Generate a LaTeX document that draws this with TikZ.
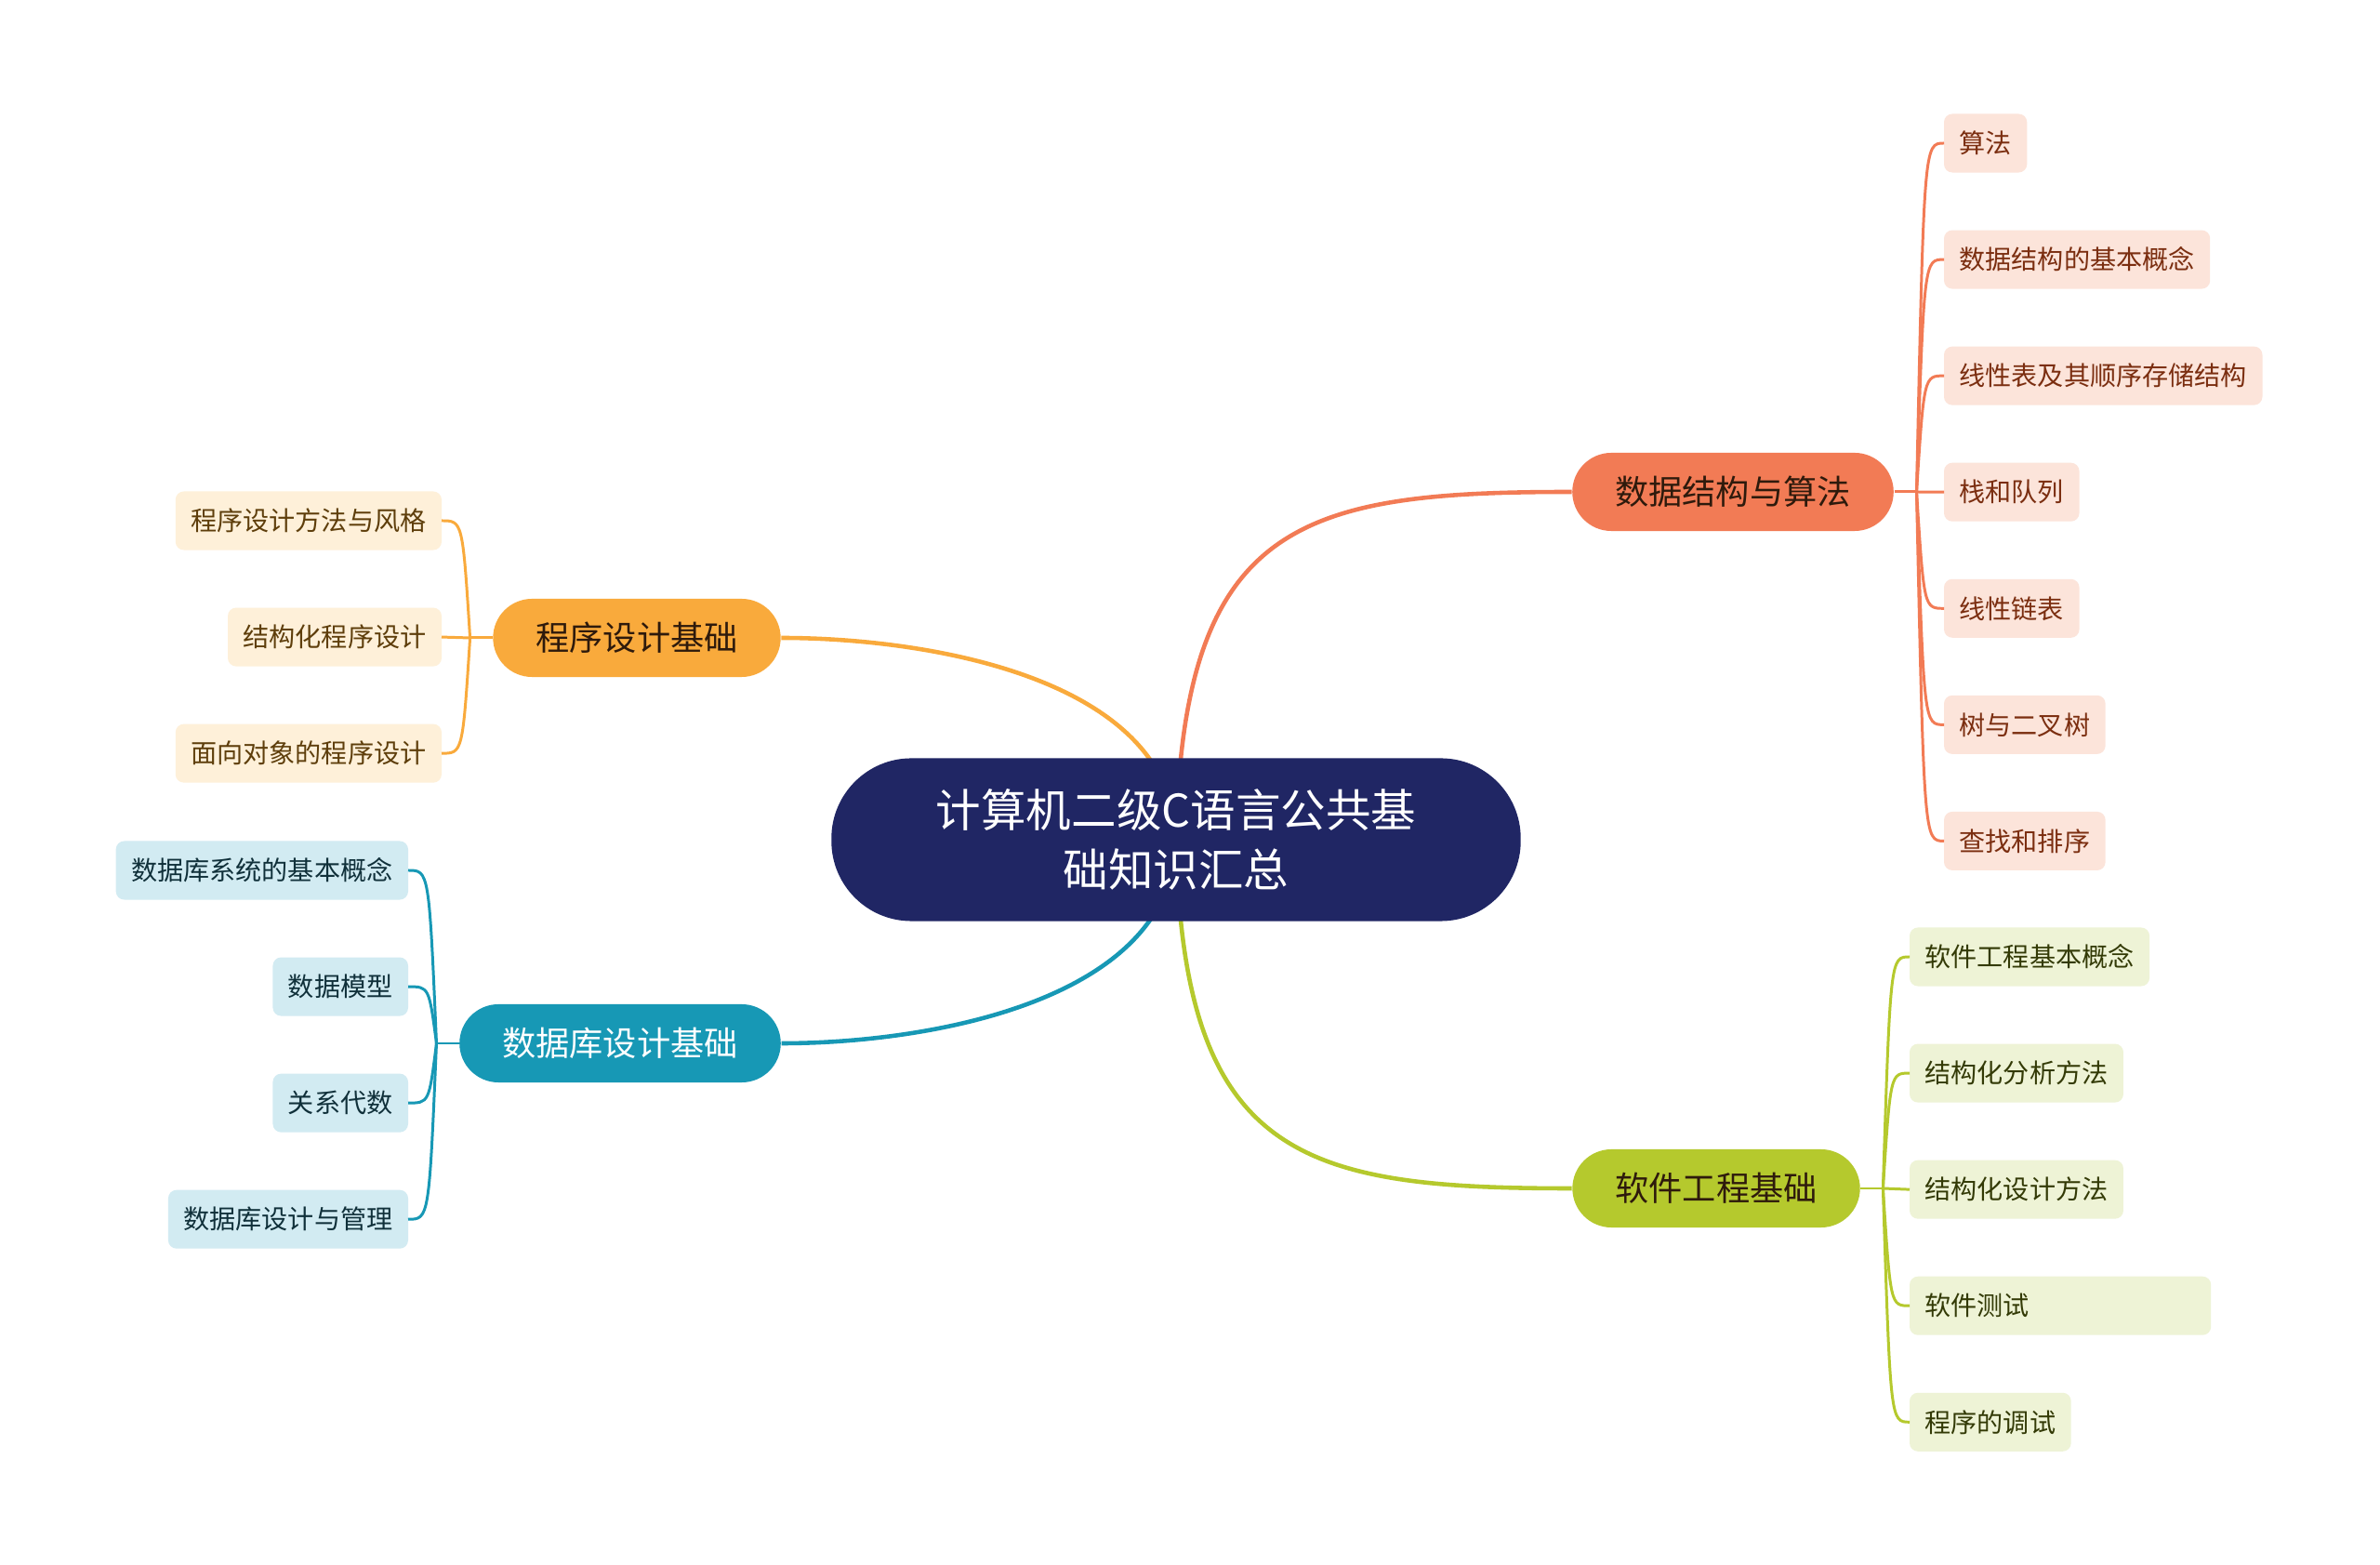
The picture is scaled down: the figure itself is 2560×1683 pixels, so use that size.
\documentclass[tikz,border=0pt]{standalone}
\usepackage{fontspec}
\setmainfont{Noto Sans CJK SC}
\usepackage{tikz}
\usetikzlibrary{positioning,backgrounds,calc}

\definecolor{rootblue}{HTML}{202664}
\definecolor{orangeB}{HTML}{F27B55}
\definecolor{amberB}{HTML}{F9AA3C}
\definecolor{tealB}{HTML}{1798B5}
\definecolor{greenB}{HTML}{B5C92D}
\definecolor{kidOfill}{HTML}{FCE4DA}
\definecolor{kidOtext}{HTML}{7B2E10}
\definecolor{kidAfill}{HTML}{FEF0D9}
\definecolor{kidAtext}{HTML}{5E3E0B}
\definecolor{kidTfill}{HTML}{D2EBF2}
\definecolor{kidTtext}{HTML}{10303A}
\definecolor{kidGfill}{HTML}{EEF3D6}
\definecolor{kidGtext}{HTML}{333A06}
\definecolor{topicdark}{HTML}{2E1A0C}

\tikzset{
  root/.style={fill=rootblue, text=white, rounded corners=0.86cm, minimum width=7.41cm,
    minimum height=1.75cm, align=center, font=\fontsize{13.8}{18.1}\selectfont},
  topic/.style={rounded corners=0.42cm, minimum height=0.84cm, inner xsep=0.46cm,
    inner ysep=0pt, font=\fontsize{10.3}{12}\selectfont},
  kid/.style={rounded corners=0.09cm, minimum height=0.63cm, inner xsep=0.165cm,
    inner ysep=0pt, outer sep=0pt, font=\fontsize{8}{10}\selectfont},
  kidO/.style={kid, fill=kidOfill, text=kidOtext},
  kidA/.style={kid, fill=kidAfill, text=kidAtext},
  kidT/.style={kid, fill=kidTfill, text=kidTtext},
  kidG/.style={kid, fill=kidGfill, text=kidGtext},
  link/.style={line width=1.3pt},
  twig/.style={line width=0.85pt},
}

\begin{document}
\begin{tikzpicture}[x=0.01cm, y=-0.01cm]
  \useasboundingbox (0,0) rectangle (2560,1683);

  \node[root] (root) at (1265,903) {计算机二级C语言公共基\\础知识汇总};

  \node[topic, fill=orangeB, text=topicdark] (bO) at (1864,529) {数据结构与算法};
  \node[topic, fill=amberB, text=topicdark] (bA) at (685,686) {程序设计基础};
  \node[topic, fill=tealB, text=white] (bT) at (667,1122) {数据库设计基础};
  \node[topic, fill=greenB, text=topicdark] (bG) at (1846,1278) {软件工程基础};

  % right, orange
  \node[kidO, anchor=west] (o1) at (2091,154) {算法};
  \node[kidO, below=0.62cm of o1.south west, anchor=north west] (o2) {数据结构的基本概念};
  \node[kidO, below=0.62cm of o2.south west, anchor=north west] (o3) {线性表及其顺序存储结构};
  \node[kidO, below=0.62cm of o3.south west, anchor=north west] (o4) {栈和队列};
  \node[kidO, below=0.62cm of o4.south west, anchor=north west] (o5) {线性链表};
  \node[kidO, below=0.62cm of o5.south west, anchor=north west] (o6) {树与二叉树};
  \node[kidO, below=0.62cm of o6.south west, anchor=north west] (o7) {查找和排序};

  % left, amber
  \node[kidA, anchor=east] (a1) at (475,560) {程序设计方法与风格};
  \node[kidA, below=0.62cm of a1.south east, anchor=north east] (a2) {结构化程序设计};
  \node[kidA, below=0.62cm of a2.south east, anchor=north east] (a3) {面向对象的程序设计};

  % left, teal
  \node[kidT, anchor=east] (t1) at (439,936) {数据库系统的基本概念};
  \node[kidT, below=0.62cm of t1.south east, anchor=north east] (t2) {数据模型};
  \node[kidT, below=0.62cm of t2.south east, anchor=north east] (t3) {关系代数};
  \node[kidT, below=0.62cm of t3.south east, anchor=north east] (t4) {数据库设计与管理};

  % right, green
  \node[kidG, anchor=west] (g1) at (2054,1029) {软件工程基本概念};
  \node[kidG, below=0.62cm of g1.south west, anchor=north west] (g2) {结构化分析方法};
  \node[kidG, below=0.62cm of g2.south west, anchor=north west] (g3) {结构化设计方法};
  \node[kidG, below=0.62cm of g3.south west, anchor=north west, text width=2.91cm,
    align=left] (g4) {软件测试};
  \node[kidG, below=0.62cm of g4.south west, anchor=north west] (g5) {程序的调试};

  \begin{scope}[on background layer]
    \fill[white] (0,0) rectangle (2560,1683);
    \draw[link, orangeB] (root.center) .. controls (1272,560) and (1400,529) .. (bO.west);
    \draw[link, amberB] (root.center) .. controls (1262,730) and (1000,686) .. (bA.east);
    \draw[link, tealB] (root.center) .. controls (1262,1076) and (1000,1122) .. (bT.east);
    \draw[link, greenB] (root.center) .. controls (1272,1246) and (1400,1278) .. (bG.west);
  \end{scope}

  \coordinate[right=0.24cm of bO.east] (jO);
  \coordinate[left=0.24cm of bA.west] (jA);
  \coordinate[left=0.24cm of bT.west] (jT);
  \coordinate[right=0.24cm of bG.east] (jG);

  \draw[twig, orangeB] (bO.east) -- (jO);
  \draw[twig, orangeB] (jO) .. controls ([xshift=0.08cm]jO|-o1) .. (o1.west);
  \draw[twig, orangeB] (jO) .. controls ([xshift=0.08cm]jO|-o2) .. (o2.west);
  \draw[twig, orangeB] (jO) .. controls ([xshift=0.08cm]jO|-o3) .. (o3.west);
  \draw[twig, orangeB] (jO) -- (o4.west);
  \draw[twig, orangeB] (jO) .. controls ([xshift=0.08cm]jO|-o5) .. (o5.west);
  \draw[twig, orangeB] (jO) .. controls ([xshift=0.08cm]jO|-o6) .. (o6.west);
  \draw[twig, orangeB] (jO) .. controls ([xshift=0.08cm]jO|-o7) .. (o7.west);

  \draw[twig, amberB] (bA.west) -- (jA);
  \draw[twig, amberB] (jA) .. controls ([xshift=-0.08cm]jA|-a1) .. (a1.east);
  \draw[twig, amberB] (jA) -- (a2.east);
  \draw[twig, amberB] (jA) .. controls ([xshift=-0.08cm]jA|-a3) .. (a3.east);

  \draw[twig, tealB] (bT.west) -- (jT);
  \draw[twig, tealB] (jT) .. controls ([xshift=-0.08cm]jT|-t1) .. (t1.east);
  \draw[twig, tealB] (jT) .. controls ([xshift=-0.08cm]jT|-t2) .. (t2.east);
  \draw[twig, tealB] (jT) .. controls ([xshift=-0.08cm]jT|-t3) .. (t3.east);
  \draw[twig, tealB] (jT) .. controls ([xshift=-0.08cm]jT|-t4) .. (t4.east);

  \draw[twig, greenB] (bG.east) -- (jG);
  \draw[twig, greenB] (jG) .. controls ([xshift=0.08cm]jG|-g1) .. (g1.west);
  \draw[twig, greenB] (jG) .. controls ([xshift=0.08cm]jG|-g2) .. (g2.west);
  \draw[twig, greenB] (jG) -- (g3.west);
  \draw[twig, greenB] (jG) .. controls ([xshift=0.08cm]jG|-g4) .. (g4.west);
  \draw[twig, greenB] (jG) .. controls ([xshift=0.08cm]jG|-g5) .. (g5.west);
\end{tikzpicture}
\end{document}
